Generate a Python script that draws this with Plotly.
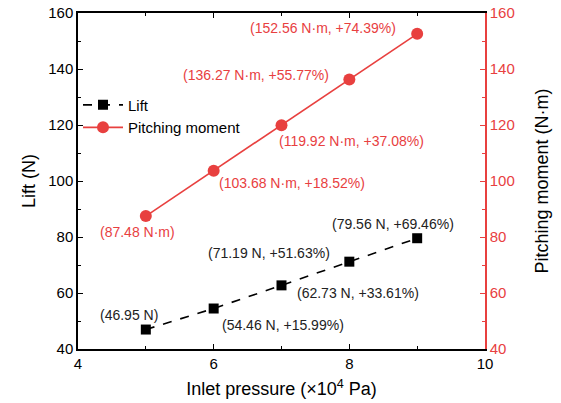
import plotly.graph_objects as go

pressure = [5, 6, 7, 8, 9]
lift = [46.95, 54.46, 62.73, 71.19, 79.56]
moment = [87.48, 103.68, 119.92, 136.27, 152.56]
lift_labels = ["(46.95 N)", "(54.46 N, +15.99%)", "(62.73 N, +33.61%)",
               "(71.19 N, +51.63%)", "(79.56 N, +69.46%)"]
moment_labels = ["(87.48 N·m)", "(103.68 N·m, +18.52%)", "(119.92 N·m, +37.08%)",
                 "(136.27 N·m, +55.77%)", "(152.56 N·m, +74.39%)"]

RED = "#E8403F"
FONT = "Liberation Sans, Arial, sans-serif"

fig = go.Figure()
fig.add_trace(go.Scatter(x=pressure, y=lift, mode="lines+markers", name="Lift",
                         line=dict(color="black", width=1.6, dash="dash"),
                         marker=dict(symbol="square", size=10, color="black")))
fig.add_trace(go.Scatter(x=pressure, y=moment, mode="lines+markers", name="Pitching moment",
                         yaxis="y2",
                         line=dict(color=RED, width=1.6),
                         marker=dict(symbol="circle", size=12, color=RED)))

lift_shift = [(-17, 15), (69, -16), (76, -8), (-80, 9), (-24, 14)]
moment_shift = [(-8, -16), (78, -12), (70, -16), (-93, 4), (-94, 6)]
for x, y, t, (dx, dy) in zip(pressure, lift, lift_labels, lift_shift):
    fig.add_annotation(x=x, y=y, xref="x", yref="y", text=t, showarrow=False,
                       xshift=dx, yshift=dy, font=dict(size=14, color="#222", family=FONT))
for x, y, t, (dx, dy) in zip(pressure, moment, moment_labels, moment_shift):
    fig.add_annotation(x=x, y=y, xref="x", yref="y2", text=t, showarrow=False,
                       xshift=dx, yshift=dy, font=dict(size=14, color=RED, family=FONT))

fig.update_layout(
    width=561, height=403,
    margin=dict(l=78, r=76, t=13, b=54),
    paper_bgcolor="white", plot_bgcolor="white",
    font=dict(family=FONT, size=15, color="black"),
    showlegend=True,
    legend=dict(x=0.0, y=0.775, xanchor="left", yanchor="top",
                bgcolor="rgba(0,0,0,0)", font=dict(size=15),
                tracegroupgap=0, itemwidth=40),
    xaxis=dict(range=[4, 10], dtick=2, tick0=4, automargin=False,
               showline=True, linecolor="black", linewidth=1.5, mirror="ticks",
               ticks="inside", ticklen=5, tickcolor="black", tickwidth=1.2,
               minor=dict(dtick=1, ticks="inside", ticklen=3, tickcolor="black"),
               showgrid=False, zeroline=False,
               title=dict(text="Inlet pressure (×10<sup>4</sup> Pa)", standoff=12),
               tickfont=dict(size=15)),
    yaxis=dict(range=[40, 160], dtick=20, automargin=False,
               showline=True, linecolor="black", linewidth=1.5,
               ticks="inside", ticklen=5, tickcolor="black", tickwidth=1.2,
               minor=dict(dtick=10, ticks="inside", ticklen=3, tickcolor="black"),
               showgrid=False, zeroline=False,
               title=dict(text="Lift (N)", standoff=8),
               tickfont=dict(size=15)),
    yaxis2=dict(range=[40, 160], dtick=20, overlaying="y", side="right", automargin=False,
                showline=True, linecolor=RED, linewidth=1.5,
                ticks="inside", ticklen=5, tickcolor=RED, tickwidth=1.2,
                minor=dict(dtick=10, ticks="inside", ticklen=3, tickcolor=RED),
                showgrid=False, zeroline=False,
                tickfont=dict(size=15, color=RED),
                title=dict(text="Pitching moment (N·m)", standoff=22, font=dict(color="black"))),
)

fig.write_html("out.html")
